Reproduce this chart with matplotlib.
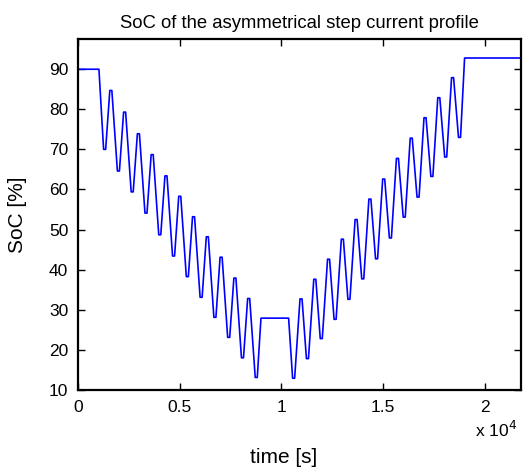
import matplotlib
matplotlib.use('Agg')
from matplotlib import pyplot as plt
from matplotlib.ticker import FuncFormatter

plt.rcParams['font.family'] = ['Liberation Sans', 'DejaVu Sans']

# values (time in s, SoC in %)
start_level = 90.0
start_end = 1030

down_bottom_t = [1310, 1988, 2666, 3344, 4022, 4700, 5378, 6056, 6734, 7412, 8090, 8768]
down_bottom_soc = [70.0, 64.6, 59.4, 54.1, 48.7, 43.4, 38.25, 33.1, 28.1, 23.1, 18.0, 13.1]
down_peak_t = [1615, 2293, 2971, 3649, 4327, 5005, 5683, 6361, 7039, 7717, 8395]
down_peak_soc = [84.7, 79.3, 73.9, 68.7, 63.4, 58.3, 53.2, 48.2, 43.1, 37.9, 32.8]

rest_level = 27.9
rest_start = 9000
rest_end = 10360

up_bottom_t = [10606, 11286, 11966, 12646, 13326, 14006, 14686, 15366, 16046, 16726, 17406, 18086, 18766]
up_bottom_soc = [12.9, 17.8, 22.8, 27.6, 32.6, 37.7, 42.7, 47.9, 53.1, 58.1, 63.25, 68.1, 73.0]
up_peak_t = [10970, 11648, 12325, 13003, 13680, 14358, 15036, 15713, 16391, 17069, 17746, 18424]
up_peak_soc = [32.7, 37.6, 42.6, 47.6, 52.5, 57.6, 62.6, 67.75, 72.8, 77.9, 82.9, 87.9]

end_level = 92.8
end_start = 19015
t_end = 21800

x_ticks = [0, 5000, 10000, 15000, 20000]
y_ticks = [10, 20, 30, 40, 50, 60, 70, 80, 90]

# build the vertex list, every extreme gets a short flat part
half = 50
t = [0, start_end]
soc = [start_level, start_level]
for i in range(len(down_bottom_t)):
    t += [down_bottom_t[i] - half, down_bottom_t[i] + half]
    soc += [down_bottom_soc[i]] * 2
    if i < len(down_peak_t):
        t += [down_peak_t[i] - half, down_peak_t[i] + half]
        soc += [down_peak_soc[i]] * 2
t += [rest_start, rest_end]
soc += [rest_level, rest_level]
for i in range(len(up_bottom_t)):
    t += [up_bottom_t[i] - half, up_bottom_t[i] + half]
    soc += [up_bottom_soc[i]] * 2
    if i < len(up_peak_t):
        t += [up_peak_t[i] - half, up_peak_t[i] + half]
        soc += [up_peak_soc[i]] * 2
t += [end_start, t_end]
soc += [end_level, end_level]

fig = plt.figure(figsize=(5.27, 4.72), dpi=100)
ax = fig.add_axes([0.148, 0.174, 0.841, 0.743])
ax.plot(t, soc, color='#0000ff', linewidth=1.2)

ax.set_xlim(0, t_end)
ax.set_ylim(10, 97.5)
ax.set_xticks(x_ticks)
ax.set_yticks(y_ticks)
ax.xaxis.set_major_formatter(FuncFormatter(lambda v, p: '%g' % (v / 1e4)))
ax.tick_params(direction='in', top=True, right=True, length=5, width=1,
               labelsize=12.5, pad=7)
for s in ax.spines.values():
    s.set_linewidth(1.6)

ax.set_title('SoC of the asymmetrical step current profile', fontsize=13.3, pad=8)
ax.set_xlabel('time [s]', fontsize=15)
ax.xaxis.set_label_coords(0.463, -0.165)
ax.set_ylabel('SoC [%]', fontsize=15)
ax.yaxis.set_label_coords(-0.115, 0.5)
ax.text(0.99, -0.085, r'x 10$^{4}$', transform=ax.transAxes, ha='right',
        va='top', fontsize=12.5)

fig.savefig('out.png', dpi=100)
